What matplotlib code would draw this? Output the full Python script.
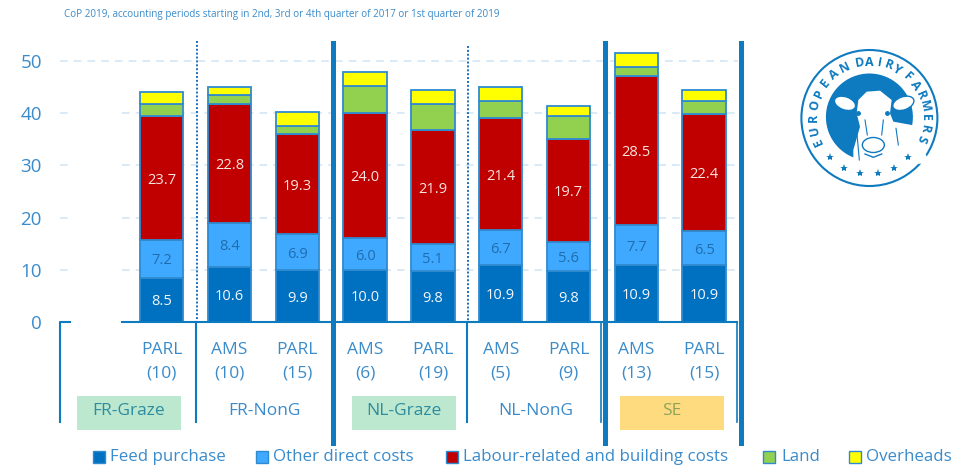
import numpy as np
import matplotlib
matplotlib.use('Agg')
import matplotlib.pyplot as plt
from matplotlib.patches import Rectangle, Circle, Ellipse, Polygon

plt.rcParams['font.family'] = ['Open Sans', 'DejaVu Sans']

# data
farm_types = ['PARL\n(10)', 'AMS\n(10)', 'PARL\n(15)', 'AMS\n(6)', 'PARL\n(19)',
              'AMS\n(5)', 'PARL\n(9)', 'AMS\n(13)', 'PARL\n(15)']
feed = [8.5, 10.6, 9.9, 10.0, 9.8, 10.9, 9.8, 10.9, 10.9]
other = [7.2, 8.4, 6.9, 6.0, 5.1, 6.7, 5.6, 7.7, 6.5]
labour = [23.7, 22.8, 19.3, 24.0, 21.9, 21.4, 19.7, 28.5, 22.4]
land = [2.3, 1.7, 1.5, 5.2, 4.9, 3.4, 4.3, 1.8, 2.5]
overheads = [2.4, 1.5, 2.7, 2.6, 2.7, 2.6, 1.9, 2.7, 2.1]
y_ticks = [0, 10, 20, 30, 40, 50]

BLUE = '#0E7AC0'
TEXT = '#3A8BCB'
EDGE = '#2F8AD0'

fig = plt.figure(figsize=(9.78, 4.75), dpi=100)
ax = fig.add_axes([60 / 978, (475 - 322) / 475, 678 / 978, 281 / 475])
ax.set_xlim(-0.5, 9.5)
ax.set_ylim(0, 281 / 5.22)

x = np.arange(1, 10)
width = 0.64
series = [(feed, '#0070C0', 'Feed purchase'),
          (other, '#3FA9FF', 'Other direct costs'),
          (labour, '#C00000', 'Labour-related and building costs'),
          (land, '#92D050', 'Land'),
          (overheads, '#FFFF00', 'Overheads')]
label_cols = {'Feed purchase': '#F2F7FB', 'Other direct costs': '#1F6DAE',
              'Labour-related and building costs': '#F8E4E0'}
bottom = np.zeros(9)
for vals, col, name in series:
    bars = ax.bar(x, vals, width, bottom=bottom, color=col, edgecolor=EDGE, linewidth=1.3, zorder=3, label=name)
    if name in label_cols:
        labs = ax.bar_label(bars, fmt='%.1f', label_type='center', color=label_cols[name], fontsize=10.5, zorder=4)
        for t in labs:
            t.xyann = (0, -1.5)
    bottom += np.array(vals)

for s in ax.spines.values():
    s.set_visible(False)
ax.set_yticks(y_ticks)
ax.set_xticks(x)
ax.set_xticklabels(farm_types, linespacing=1.6)
ax.tick_params(axis='y', length=0, pad=13, labelsize=13.5, labelcolor=TEXT)
ax.tick_params(axis='x', length=0, pad=14.5, labelsize=12.5, labelcolor=TEXT)

# dashed grid, broken where the missing first bar would be
for yv in y_ticks[1:]:
    if yv == 50:
        ax.plot([-0.5, 9.5], [yv, yv], color='#CFE4F5', lw=1.1, ls=(0, (5, 4)), zorder=1)
    else:
        ax.plot([-0.5, -0.35], [yv, yv], color='#CFE4F5', lw=1.1, ls=(0, (5, 4)), zorder=1)
        ax.plot([0.42, 9.5], [yv, yv], color='#CFE4F5', lw=1.1, ls=(0, (5, 4)), zorder=1)

# overlay in pixel coordinates for separators, boxes, legend and logo
ov = fig.add_axes([0, 0, 1, 1], facecolor='none')
ov.set_xlim(0, 978)
ov.set_ylim(475, 0)
ov.axis('off')

ov.text(64, 15, 'CoP 2019, accounting periods starting in 2nd, 3rd or 4th quarter of 2017 or 1st quarter of 2019',
        color=TEXT, fontsize=7.1, va='center')

ov.plot([60, 60, 70], [422, 322, 322], color=BLUE, lw=1.5)
ov.plot([122, 737], [322, 322], color=BLUE, lw=1.5)
ov.plot([196, 196], [322, 422], color=BLUE, lw=1.5)
ov.plot([467, 467], [322, 422], color=BLUE, lw=1.5)
ov.plot([601, 601], [322, 422], color=BLUE, lw=1.2)
ov.plot([737, 737], [322, 422], color=BLUE, lw=1.2)
ov.plot([196.5, 196.5], [41, 322], color='#1A6FBE', lw=1.4, ls=(0, (1, 1)))
ov.plot([467.5, 467.5], [46, 322], color='#1A6FBE', lw=1.4, ls=(0, (1, 1)))
for xp in [333, 605, 741]:
    ov.add_patch(Rectangle((xp - 2.5, 41), 5, 405, color=BLUE, lw=0))

# group labels
groups = ['FR-Graze', 'FR-NonG', 'NL-Graze', 'NL-NonG', 'SE']
group_x = [129, 264, 404, 536, 672]
group_box = ['#BCE8CF', None, '#BCE8CF', None, '#FFDB80']
group_col = ['#2E8C9E', TEXT, '#2E8C9E', TEXT, '#8FA35A']
for g, gx, box, col in zip(groups, group_x, group_box, group_col):
    if box:
        ov.add_patch(Rectangle((gx - 52, 396), 104, 33.5, color=box, lw=0))
    ov.text(gx, 411, g, color=col, fontsize=12.5, ha='center', va='center')

# legend
legend_sq = [93, 256, 446, 763, 849]
legend_tx = [110, 273, 463, 781, 866]
for (vals, col, name), sx, tx in zip(series, legend_sq, legend_tx):
    ov.add_patch(Rectangle((sx, 450.5), 12, 12, facecolor=col, edgecolor=EDGE, lw=1))
    ov.text(tx, 457, name, color=TEXT, fontsize=12.2, va='center')

# logo
cx, cy = 869.4, 118
ov.add_patch(Circle((cx, cy), 68, fill=False, edgecolor=BLUE, lw=1.5))
ov.add_patch(Circle((cx, cy - 1), 43.5, color=BLUE, lw=0))


def z5(pts):
    return [(790 + a / 3, 50 + b / 3) for a, b in pts]


ov.add_patch(Polygon(z5([(205, 150), (230, 125), (270, 122), (305, 150), (300, 190), (310, 215), (365, 225),
                         (420, 340), (190, 350), (190, 300), (210, 230), (200, 190)]), color='white', lw=0))
ear_angle = [-20, 20]
for ex, ang in zip([165, 340], ear_angle):
    ov.add_patch(Ellipse(z5([(ex, 160)])[0], 22, 13, angle=-ang, facecolor='white', edgecolor=BLUE, lw=1))
ov.add_patch(Ellipse(z5([(250, 285)])[0], 22, 15, facecolor='white', edgecolor=BLUE, lw=1))
ov.plot(*zip(*z5([(225, 312), (250, 322), (275, 312)])), color=BLUE, lw=1)
for a in [(205, 190), (290, 190)]:
    p = z5([a])[0]
    ov.plot([p[0]], [p[1]], 'o', color=BLUE, ms=2.5)
for line in [[(198, 220), (208, 330)], [(225, 210), (232, 255)], [(280, 210), (275, 255)], [(318, 235), (325, 285)]]:
    ov.plot(*zip(*z5(line)), color=BLUE, lw=0.8)

star_x = [830, 844, 860, 878, 894, 908]
star_y = [157, 168, 173, 173, 168, 157]
ov.plot(star_x, star_y, '*', color=BLUE, ms=6, mew=0)

logo_words = ['EUROPEAN', 'DAIRY', 'FARMERS']
word_start = [205, 100, 47]
word_end = [116, 60, -22]
for word, a0, a1 in zip(logo_words, word_start, word_end):
    for ch, ang in zip(word, np.linspace(a0, a1, len(word))):
        r = np.radians(ang)
        ov.text(cx + 56 * np.cos(r), cy - 56 * np.sin(r), ch, color=BLUE, fontsize=9, fontweight='bold',
                rotation=ang - 90, rotation_mode='anchor', ha='center', va='center')

fig.savefig('out.png', dpi=100)
